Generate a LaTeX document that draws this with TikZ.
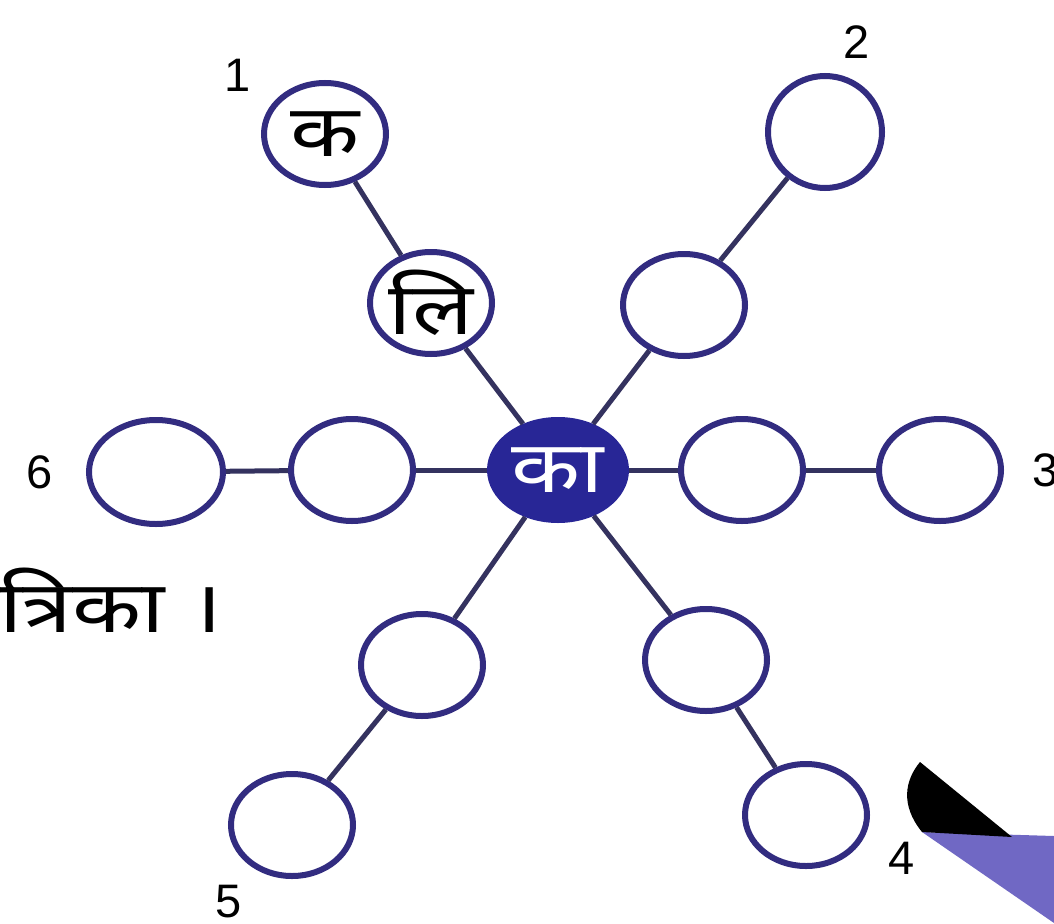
\documentclass[tikz,border=0pt]{standalone}
\usepackage{fontspec}
\setmainfont{Noto Sans}[Script=Devanagari]
\newfontfamily\latinfont{Liberation Sans}
\usetikzlibrary{shapes.geometric}
\definecolor{ring}{RGB}{50,44,128}
\definecolor{hub}{RGB}{40,38,150}
\definecolor{linkc}{RGB}{52,50,95}
\definecolor{wedge}{RGB}{112,104,196}
\newcommand{\widetxt}[1]{\scalebox{1.25}[1]{#1}}
\begin{document}
\begin{tikzpicture}[x=1pt,y=-1pt,
  ringnode/.style={ellipse, draw=ring, line width=6pt, fill=white,
    minimum width=122pt, minimum height=102pt, inner sep=0pt,
    font=\fontsize{72}{72}\selectfont},
  hubnode/.style={ellipse, draw=hub, fill=hub, line width=2pt,
    minimum width=140pt, minimum height=104pt, inner sep=0pt,
    text=white, font=\fontsize{72}{72}\selectfont},
  linkline/.style={draw=linkc, line width=5pt},
  numlabel/.style={font=\latinfont\fontsize{47}{47}\selectfont, inner sep=0pt},
  sidetext/.style={font=\fontsize{72}{72}\selectfont, inner sep=0pt, anchor=base west}]
\useasboundingbox (0,0) rectangle (1054,923);
\clip (0,0) rectangle (1054,923);
\fill[white] (0,0) rectangle (1054,923);

% nodes
\node[hubnode] (c) at (558,470) {\widetxt{का}};
\node[ringnode] (ul1) at (431,303) {\widetxt{लि}};
\node[ringnode] (ul2) at (325,134) {\widetxt{क}};
\node[ringnode] (ur1) at (684,305) {};
\node[ringnode, minimum width=114pt, minimum height=112pt] (ur2) at (825,132) {};
\node[ringnode] (r1) at (742,470) {};
\node[ringnode] (r2) at (940,470) {};
\node[ringnode] (l1) at (352,470) {};
\node[ringnode, minimum width=134pt, minimum height=104pt] (l2) at (156,472) {};
\node[ringnode] (dl1) at (422,665) {};
\node[ringnode] (dl2) at (292,825) {};
\node[ringnode] (dr1) at (706,660) {};
\node[ringnode] (dr2) at (806,815) {};

% connectors
\draw[linkline] (c) -- (ul1);
\draw[linkline] (ul1) -- (ul2);
\draw[linkline] (c) -- (ur1);
\draw[linkline] (ur1) -- (ur2);
\draw[linkline] (c) -- (r1);
\draw[linkline] (r1) -- (r2);
\draw[linkline] (c) -- (l1);
\draw[linkline] (l1) -- (l2);
\draw[linkline] (c) -- (dl1);
\draw[linkline] (dl1) -- (dl2);
\draw[linkline] (c) -- (dr1);
\draw[linkline] (dr1) -- (dr2);

% number labels
\node[numlabel] (n1) at (238,75) {1};
\node[numlabel] (n2) at (857,42) {2};
\node[numlabel] (n3) at (1046,470) {3};
\node[numlabel] (n4) at (902,858) {4};
\node[numlabel] (n5) at (229,902) {5};
\node[numlabel] (n6) at (40,472) {6};

% clipped side text
\node[sidetext] (side) at (-52,632) {\widetxt{पत्रिका ।}};

% corner wedge
\fill[wedge] (922,832) -- (1054,836) -- (1054,923) -- cycle;
\fill[black] (920,762) .. controls (905,780) and (900,805) .. (922,832)
  -- (1012,837) -- cycle;
\end{tikzpicture}
\end{document}
